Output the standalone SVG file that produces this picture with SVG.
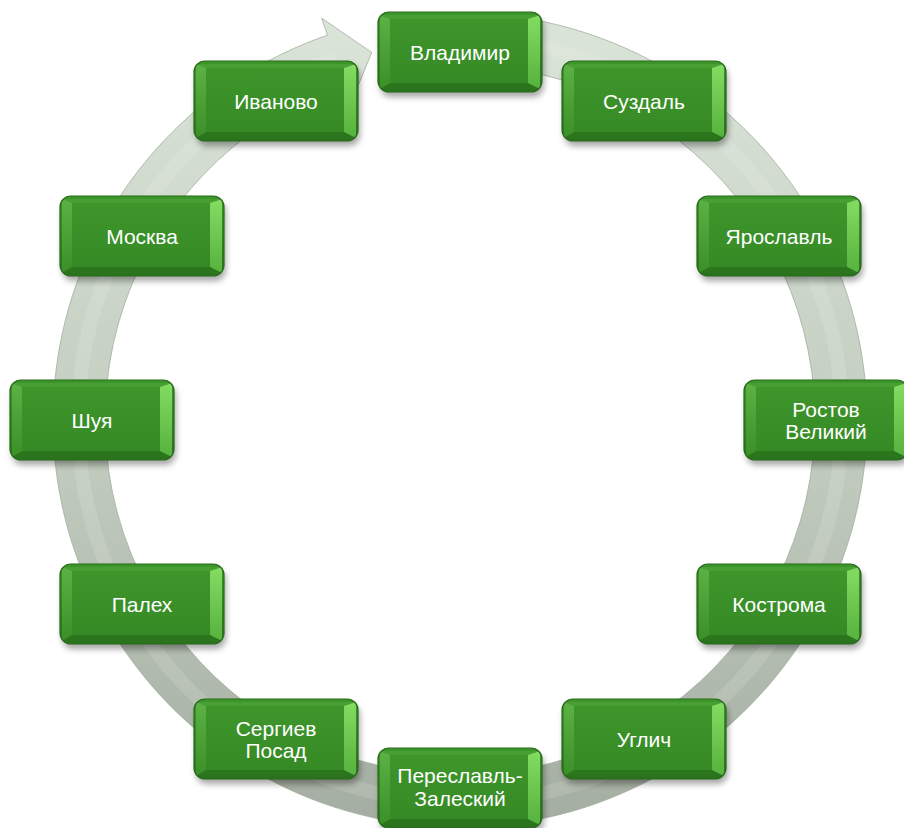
<svg xmlns="http://www.w3.org/2000/svg" xmlns:xlink="http://www.w3.org/1999/xlink" width="904" height="828" viewBox="0 0 904 828">
  <style>
    .lbl { font-family: "Liberation Sans", Arial, sans-serif; font-size: 21px; fill: #ffffff; text-anchor: middle; }
  </style>
  <defs>
    <linearGradient id="gRing" x1="0" y1="0" x2="0" y2="828" gradientUnits="userSpaceOnUse">
      <stop offset="0" stop-color="#dbe5d9"/>
      <stop offset="0.5" stop-color="#c4cfc1"/>
      <stop offset="1" stop-color="#a4ada1"/>
    </linearGradient>
    <linearGradient id="gBase" x1="0" y1="0" x2="0" y2="1">
      <stop offset="0" stop-color="#3c962a"/>
      <stop offset="1" stop-color="#2a721c"/>
    </linearGradient>
    <linearGradient id="gFace" x1="0" y1="0" x2="0" y2="1">
      <stop offset="0" stop-color="#3e962b"/>
      <stop offset="1" stop-color="#368a25"/>
    </linearGradient>
    <linearGradient id="gRight" x1="0" y1="0" x2="0" y2="1">
      <stop offset="0" stop-color="#84dc62"/>
      <stop offset="1" stop-color="#56b23e"/>
    </linearGradient>
    <linearGradient id="gLeft" x1="0" y1="0" x2="0" y2="1">
      <stop offset="0" stop-color="#5cb244"/>
      <stop offset="1" stop-color="#3a8f28"/>
    </linearGradient>
    <filter id="shadow" x="-20%" y="-30%" width="140%" height="160%">
      <feGaussianBlur stdDeviation="3"/>
    </filter>
    <clipPath id="boxClip">
      <rect x="-82" y="-40" width="164" height="80" rx="11"/>
    </clipPath>
    <g id="box">
      <rect x="-80" y="-35" width="164" height="80" rx="11" fill="#000" opacity="0.35" filter="url(#shadow)"/>
      <rect x="-82" y="-40" width="164" height="80" rx="11" fill="url(#gBase)"/>
      <g clip-path="url(#boxClip)">
        <polygon points="-79,-37 79,-37 68,-33 -70,-33" fill="#48a034"/>
        <polygon points="-79,37 79,37 68,31 -70,31" fill="#2b751d"/>
        <polygon points="-80,-37 -70,-33 -70,31 -80,37" fill="url(#gLeft)"/>
        <polygon points="80,-37 68,-33 68,31 80,37" fill="url(#gRight)"/>
        <rect x="-70" y="-33" width="138" height="64" fill="url(#gFace)"/>
      </g>
      <rect x="-82" y="-40" width="164" height="80" rx="11" fill="none" stroke="#286b1a" stroke-width="1.2"/>
    </g>
  </defs>

  <g id="connectors">
    <path id="cycle-arrow" d="M530.67,19.18 A407,407 0 1 1 327.49,35.17 L321.63,18.15 L371.76,52.44 L350.93,103.25 L344.42,84.34 A355,355 0 1 0 521.65,70.39 Z" fill="url(#gRing)" stroke="#a3ad9f" stroke-width="0.8"/>
    <path d="M526.33,43.8 A382,382 0 1 1 335.63,58.81" fill="none" stroke="#ffffff" stroke-opacity="0.13" stroke-width="14"/>
  </g>

  <g id="node-vladimir" transform="translate(460,52)">
    <use xlink:href="#box"/>
    <text class="lbl" y="7.5">Владимир</text>
  </g>
  <g id="node-suzdal" transform="translate(644,101)">
    <use xlink:href="#box"/>
    <text class="lbl" y="7.5">Суздаль</text>
  </g>
  <g id="node-yaroslavl" transform="translate(779,236)">
    <use xlink:href="#box"/>
    <text class="lbl" y="7.5">Ярославль</text>
  </g>
  <g id="node-rostov" transform="translate(826,420)">
    <use xlink:href="#box"/>
    <text class="lbl" y="-3.5">Ростов</text>
    <text class="lbl" y="19">Великий</text>
  </g>
  <g id="node-kostroma" transform="translate(779,604)">
    <use xlink:href="#box"/>
    <text class="lbl" y="7.5">Кострома</text>
  </g>
  <g id="node-uglich" transform="translate(644,739)">
    <use xlink:href="#box"/>
    <text class="lbl" y="7.5">Углич</text>
  </g>
  <g id="node-pereslavl" transform="translate(460,788)">
    <use xlink:href="#box"/>
    <text class="lbl" y="-5">Переславль-</text>
    <text class="lbl" y="18">Залеский</text>
  </g>
  <g id="node-sergiev" transform="translate(276,739)">
    <use xlink:href="#box"/>
    <text class="lbl" y="-3.5">Сергиев</text>
    <text class="lbl" y="19">Посад</text>
  </g>
  <g id="node-palekh" transform="translate(142,604)">
    <use xlink:href="#box"/>
    <text class="lbl" y="7.5">Палех</text>
  </g>
  <g id="node-shuya" transform="translate(92,420)">
    <use xlink:href="#box"/>
    <text class="lbl" y="7.5">Шуя</text>
  </g>
  <g id="node-moskva" transform="translate(142,236)">
    <use xlink:href="#box"/>
    <text class="lbl" y="7.5">Москва</text>
  </g>
  <g id="node-ivanovo" transform="translate(276,101)">
    <use xlink:href="#box"/>
    <text class="lbl" y="7.5">Иваново</text>
  </g>
</svg>
